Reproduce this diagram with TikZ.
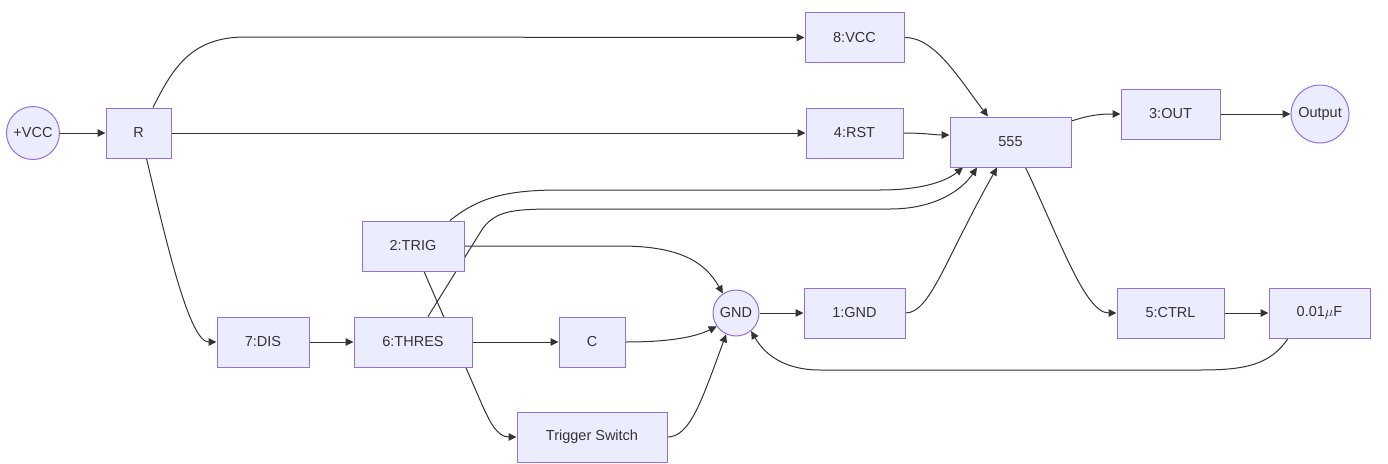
\documentclass[tikz,border=0pt]{standalone}
\usepackage{fontspec}
\setmainfont{Liberation Sans}
\usetikzlibrary{arrows.meta}
\definecolor{boxfill}{HTML}{ECECFF}
\definecolor{boxline}{HTML}{9370DB}
\definecolor{edgegray}{HTML}{333333}
\pgfdeclarelayer{bg}
\pgfsetlayers{bg,main}

\begin{document}
\begin{tikzpicture}[x=1pt, y=-1pt,
        box/.style={rectangle, draw=boxline, fill=boxfill, line width=1pt, minimum height=50pt, inner sep=0pt, text=edgegray, font=\fontsize{14.5}{17}\selectfont},
        term/.style={box, circle},
        link/.style={draw=edgegray, line width=1pt, -{Triangle[length=8pt,width=7.5pt]}}]
        \useasboundingbox (0,0) rectangle (1388,463);

        % Nodes
        \node[term, minimum size=53pt] (vcc) at (33,133) {+VCC};
        \node[box, minimum width=65pt] (r) at (138.5,133) {R};
        \node[box, minimum width=99pt] (pin8) at (854.5,37.5) {8:VCC};
        \node[box, minimum width=97pt] (pin4) at (854.5,133) {4:RST};
        \node[box, minimum width=121pt] (ic) at (1010.5,142) {555};
        \node[box, minimum width=99pt] (pin3) at (1170.5,114) {3:OUT};
        \node[term, minimum size=58pt] (out) at (1320,114) {Output};
        \node[box, minimum width=102pt] (pin2) at (413,246) {2:TRIG};
        \node[box, minimum width=92pt] (pin7) at (263,342) {7:DIS};
        \node[box, minimum width=118pt] (pin6) at (413,342) {6:THRES};
        \node[box, minimum width=66pt] (cap) at (592,342) {C};
        \node[term, minimum size=46pt] (gnd) at (736,313) {GND};
        \node[box, minimum width=101pt] (pin1) at (854.5,313) {1:GND};
        \node[box, minimum width=107pt] (pin5) at (1170.5,313) {5:CTRL};
        \node[box, minimum width=101pt] (ctrlcap) at (1319.5,313) {0.01$\mu$F};
        \node[box, minimum width=150pt] (trig) at (592,437) {Trigger Switch};

        % Arrows
        \begin{pgfonlayer}{bg}
        \draw[link] (vcc) -- (r);
        \draw[link] ([xshift=14.5pt]r.north) .. controls (172,70) and (190,37) .. (245,37) -- (pin8.west);
        \draw[link] (r) -- (pin4);
        \draw[link] ([xshift=8pt]r.south) .. controls (168,250) and (190,342) .. (pin7.west);
        \draw[link] (pin8.east) .. controls (935,37) and (960,80) .. ([xshift=-22.5pt]ic.north);
        \draw[link] (pin4.east) .. controls (925,133) and (935,135) .. ([yshift=7pt]ic.west);
        \draw[link] ([yshift=21pt]ic.east) .. controls (1090,115) and (1100,114) .. (pin3.west);
        \draw[link] (pin3) -- (out);
        \draw[link] ([xshift=15pt]ic.south) .. controls (1060,240) and (1085,313) .. (pin5.west);
        \draw[link] (pin5) -- (ctrlcap);
        \draw[link] ([xshift=-31.5pt]ctrlcap.south) .. controls (1270,365) and (1245,370) .. (1200,370) -- (820,370) .. controls (785,370) and (765,355) .. (gnd.-50);
        \draw[link] (pin7) -- (pin6);
        \draw[link] (pin6) -- (cap);
        \draw[link] ([xshift=15pt]pin6.north) -- (483,228) .. controls (497,210) and (515,209) .. (560,209) -- (890,209) .. controls (935,209) and (962,190) .. ([xshift=-33.5pt]ic.south);
        \draw[link] ([xshift=37pt]pin2.north) .. controls (478,198) and (505,190) .. (560,190) -- (880,190) .. controls (920,190) and (945,182) .. ([xshift=-47.5pt]ic.south);
        \draw[link] (pin2.east) -- (620,246) .. controls (680,246) and (705,262) .. (gnd.124);
        \draw[link] ([xshift=11pt]pin2.south) -- (480,400) .. controls (489,421) and (497,437) .. (trig.west);
        \draw[link] (cap.east) .. controls (670,342) and (695,337) .. (gnd.215);
        \draw[link] (trig.east) .. controls (690,437) and (702,400) .. (gnd.245);
        \draw[link] (gnd) -- (pin1);
        \draw[link] (pin1.east) .. controls (930,313) and (945,260) .. ([xshift=-13.5pt]ic.south);
        \end{pgfonlayer}
    \end{tikzpicture}
\end{document}
